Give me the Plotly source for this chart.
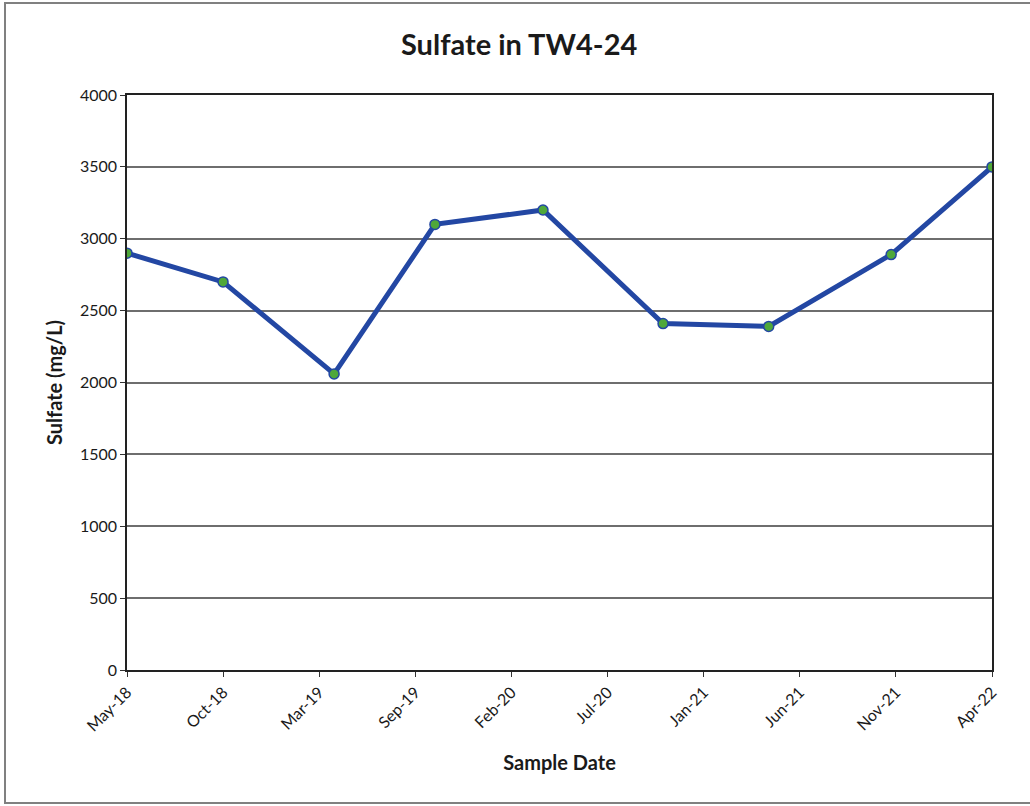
import pandas as pd
import plotly.graph_objects as go

# Sulfate concentrations measured in well TW4-24
sample_dates = ["2018-05-10", "2018-10-17", "2019-04-20", "2019-10-05", "2020-04-02",
                "2020-10-19", "2021-04-13", "2021-11-03", "2022-04-20"]
sulfate_mg_l = [2900, 2700, 2060, 3100, 3200, 2410, 2390, 2890, 3500]

tick_labels = ["May-18", "Oct-18", "Mar-19", "Sep-19", "Feb-20",
               "Jul-20", "Jan-21", "Jun-21", "Nov-21", "Apr-22"]
y_ticks = [0, 500, 1000, 1500, 2000, 2500, 3000, 3500, 4000]

dates = pd.to_datetime(sample_dates)
x_start, x_end = dates[0], dates[-1]
step = (x_end - x_start) / (len(tick_labels) - 1)
tick_vals = [x_start + step * i for i in range(len(tick_labels))]

FONT = "Lato"

fig = go.Figure()
fig.add_trace(go.Scatter(
    x=dates, y=sulfate_mg_l,
    mode="lines+markers",
    line=dict(color="#2347a3", width=5),
    marker=dict(size=10, color="#4fa83a", line=dict(color="#2347a3", width=1.5)),
    showlegend=False,
))

fig.update_layout(
    width=1030, height=806,
    margin=dict(l=127, r=38, t=95, b=136),
    paper_bgcolor="white", plot_bgcolor="white",
    font=dict(family=FONT, color="#1a1a1a"),
    title=dict(text="<b>Sulfate in TW4-24</b>", x=0.504, xanchor="center",
               y=0.944, yanchor="middle", font=dict(size=29, family=FONT)),
    xaxis=dict(
        type="date", range=[x_start, x_end],
        tickvals=tick_vals, ticktext=tick_labels, tickangle=-45,
        tickfont=dict(size=16), ticks="outside", ticklen=5, tickcolor="#333",
        showgrid=False, showline=True, linecolor="#222", linewidth=1.5, mirror=True,
        title=dict(text="<b>Sample Date</b>", font=dict(size=20), standoff=22),
    ),
    yaxis=dict(
        range=[0, 4000], tickvals=y_ticks, tickfont=dict(size=16),
        ticks="outside", ticklen=5, tickcolor="#333",
        showgrid=True, gridcolor="#6e6e6e", gridwidth=1.5,
        showline=True, linecolor="#222", linewidth=1.5, mirror=True,
        zeroline=False,
        title=dict(text="<b>Sulfate (mg/L)</b>", font=dict(size=20), standoff=12),
    ),
)

# outer chart frame
fig.add_shape(type="rect", xref="paper", yref="paper",
              x0=-122 / 865, x1=920 / 865, y0=-133 / 575, y1=667 / 575,
              line=dict(color="#808080", width=2), layer="below")

fig.write_html("out.html")
